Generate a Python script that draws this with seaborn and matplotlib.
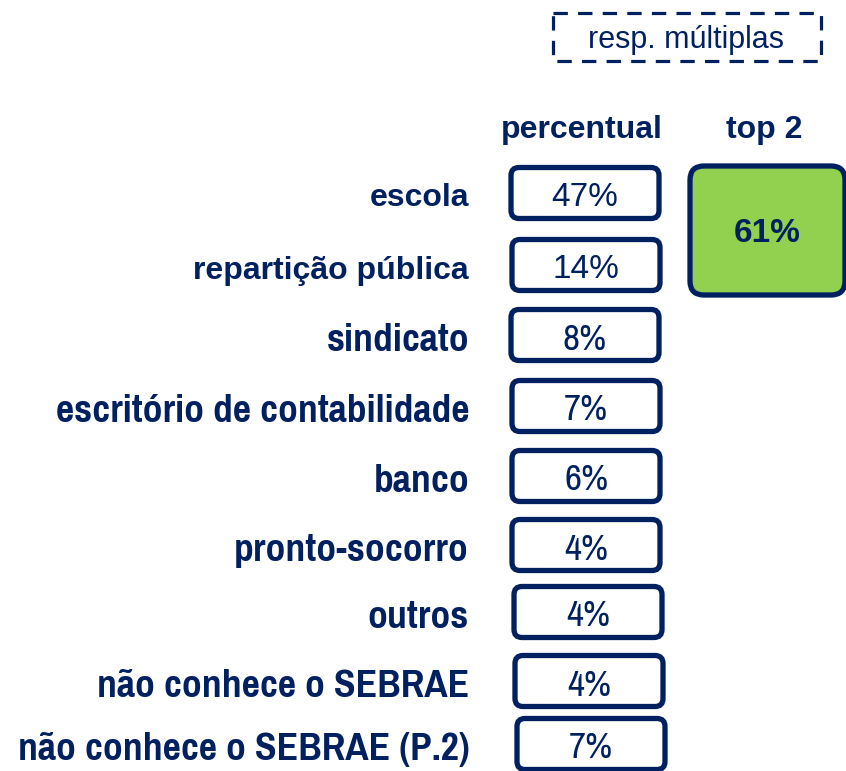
import matplotlib
matplotlib.use("Agg")
import matplotlib.pyplot as plt
import seaborn as sns
from matplotlib.patches import FancyBboxPatch

# ---- data ----
categories = ["escola", "repartição pública", "sindicato", "escritório de contabilidade",
              "banco", "pronto-socorro", "outros", "não conhece o SEBRAE",
              "não conhece o SEBRAE (P.2)"]
percentual = [47, 14, 8, 7, 6, 4, 4, 4, 7]
top2_value = 61
headers = ["percentual", "top 2"]
note_text = "resp. múltiplas"

# ---- layout (pixels) ----
W, H = 846, 771
row_y = [193, 265, 335, 406, 476, 545, 612, 681, 744]
box_x0 = [511, 512, 511, 512, 512, 512, 514, 515, 517]
box_w, box_h = 148, 51
NAVY = "#002060"
GREEN = "#92D050"

sns.set_theme(style="white")
plt.rcParams["font.family"] = ["Liberation Sans", "DejaVu Sans"]
WIDE = ["Liberation Sans", "DejaVu Sans"]
NARROW = ["Pragati Narrow", "PT Sans Narrow", "DejaVu Sans"]

fig = plt.figure(figsize=(W / 100, H / 100), dpi=100)
fig.patch.set_facecolor("white")
ax = fig.add_axes([0, 0, 1, 1])
ax.set_xlim(0, W)
ax.set_ylim(H, 0)
ax.axis("off")

# note box (dashed)
note = FancyBboxPatch((553, 13), 268, 48, boxstyle="square,pad=0",
                      fill=False, edgecolor=NAVY, linewidth=2.3,
                      linestyle=(0, (4.5, 3.2)), zorder=2)
ax.add_patch(note)
ax.text(686, 40, note_text, fontsize=22, color=NAVY, ha="center", va="center",
        family=WIDE, zorder=3)

# headers
ax.text(582, 130, headers[0], fontsize=23, fontweight="bold", color=NAVY,
        ha="center", va="center", family=WIDE)
ax.text(764, 130, headers[1], fontsize=23, fontweight="bold", color=NAVY,
        ha="center", va="center", family=WIDE)

# rows
for i, (cat, val) in enumerate(zip(categories, percentual)):
    y = row_y[i]
    x0 = box_x0[i]
    if i < 2:
        fam, lab_size, val_size, dy = WIDE, 23, 24, 2
    else:
        fam, lab_size, val_size, dy = NARROW, 31, 29, 2
    ax.text(469, y + dy, cat, fontsize=lab_size, fontweight="bold", color=NAVY,
            ha="right", va="center_baseline", family=fam, zorder=3)
    box = FancyBboxPatch((x0 + 6, y - box_h / 2 + 6), box_w - 12, box_h - 12,
                         boxstyle="round,pad=6,rounding_size=8",
                         facecolor="white", edgecolor=NAVY, linewidth=3.8, zorder=2)
    ax.add_patch(box)
    ax.text(x0 + box_w / 2, y + 1, f"{val}%", fontsize=val_size, color=NAVY,
            ha="center", va="center_baseline", family=fam, zorder=3)

# top 2 box
g = FancyBboxPatch((698, 174), 139, 113, boxstyle="round,pad=8,rounding_size=14",
                   facecolor=GREEN, edgecolor=NAVY, linewidth=3.8, zorder=2)
ax.add_patch(g)
ax.text(767, 233, f"{top2_value}%", fontsize=24, fontweight="bold", color=NAVY,
        ha="center", va="center", family=WIDE, zorder=3)

fig.savefig("out.png", dpi=100, facecolor="white")
